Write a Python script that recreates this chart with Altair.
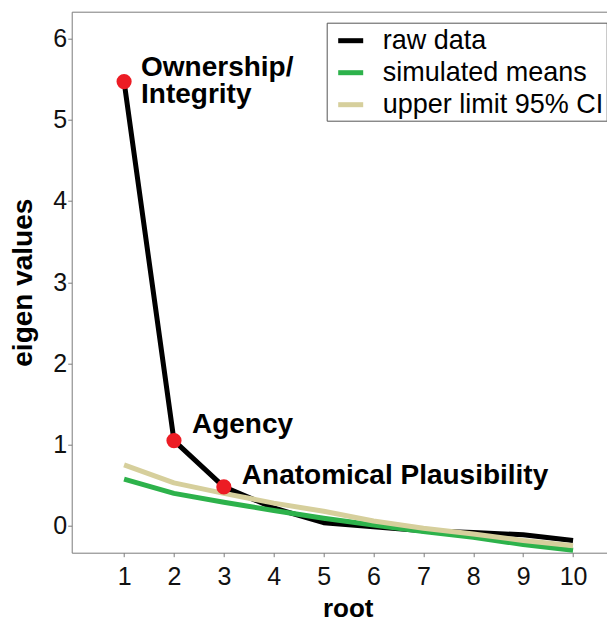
import altair as alt
import pandas as pd

# ---- data ----
roots = [1, 2, 3, 4, 5, 6, 7, 8, 9, 10]
raw_data = [5.47, 1.05, 0.48, 0.22, 0.04, -0.01, -0.06, -0.08, -0.11, -0.18]
simulated_means = [0.575, 0.40, 0.29, 0.19, 0.095, 0.01, -0.07, -0.14, -0.23, -0.30]
upper_ci = [0.75, 0.53, 0.40, 0.28, 0.18, 0.06, -0.03, -0.10, -0.18, -0.245]

series_names = ["raw data", "simulated means", "upper limit 95% CI"]
series_colors = ["#000000", "#2DB24B", "#D6CF9C"]

factor_roots = [1, 2, 3]
factor_labels = ["Ownership/\nIntegrity", "Agency", "Anatomical Plausibility"]

x_ticks = list(range(1, 11))
y_ticks = list(range(0, 7))

FONT = "Liberation Sans"
GRAY = "#7a7a7a"

lines_df = pd.DataFrame({
    "root": roots * 3,
    "value": raw_data + simulated_means + upper_ci,
    "series": [s for s in series_names for _ in roots],
    "order": [i for i in range(3) for _ in roots],
})

points_df = pd.DataFrame({
    "root": factor_roots,
    "value": [raw_data[r - 1] for r in factor_roots],
    "label": factor_labels,
})

x_scale = alt.Scale(domain=[-0.05, 10.68], nice=False, zero=False)
y_scale = alt.Scale(domain=[-0.33, 6.33], nice=False, zero=False)

x_axis = alt.Axis(
    values=x_ticks, format="d", grid=False, tickSize=4, labelPadding=8,
    domainColor=GRAY, tickColor=GRAY, labelColor="#111111",
    labelFont=FONT, labelFontSize=25, labelAngle=0,
    title="root", titleFont=FONT, titleFontSize=26, titleFontWeight="bold",
    titleColor="#000000", titleX=276, titleY=64, titleAlign="center",
    titleBaseline="alphabetic",
)
y_axis = alt.Axis(
    values=y_ticks, format="d", grid=False, tickSize=4, labelPadding=1,
    domainColor=GRAY, tickColor=GRAY, labelColor="#111111",
    labelFont=FONT, labelFontSize=25,
    title="eigen values", titleFont=FONT, titleFontSize=28, titleFontWeight="bold",
    titleColor="#000000", titleAngle=270, titleX=-40, titleY=270.5,
    titleAlign="center", titleBaseline="alphabetic",
)

lines = alt.Chart(lines_df).mark_line(strokeWidth=5, strokeCap="butt", strokeJoin="round").encode(
    x=alt.X("root:Q", scale=x_scale, axis=x_axis),
    y=alt.Y("value:Q", scale=y_scale, axis=y_axis),
    color=alt.Color(
        "series:N",
        scale=alt.Scale(domain=series_names, range=series_colors),
        legend=alt.Legend(
            orient="none", legendX=255, legendY=11, title=None,
            symbolType="stroke", symbolStrokeWidth=5, symbolSize=625,
            labelFont=FONT, labelFontSize=27, labelColor="#000000", labelLimit=400,
            padding=3, rowPadding=4, symbolOffset=6, labelOffset=17,
            strokeColor="#555555", fillColor="#ffffff", cornerRadius=0,
        ),
    ),
    order=alt.Order("order:Q"),
)

top_axis = alt.Axis(orient="top", labels=False, ticks=False, domain=True,
                    domainColor=GRAY, grid=False, title=None)

points = alt.Chart(points_df).mark_circle(size=230, color="#EC1C24", opacity=1).encode(
    x=alt.X("root:Q", scale=x_scale, axis=top_axis),
    y=alt.Y("value:Q", scale=y_scale),
)

def label_layer(idx, dx, dy):
    return alt.Chart(points_df.iloc[[idx]]).mark_text(
        align="left", baseline="alphabetic", dx=dx, dy=dy,
        font=FONT, fontSize=28, fontWeight="bold", color="#000000",
        lineBreak="\n", lineHeight=27,
    ).encode(
        x=alt.X("root:Q", scale=x_scale, axis=None),
        y=alt.Y("value:Q", scale=y_scale),
        text="label:N",
    )

labels = [label_layer(0, 17, -6), label_layer(1, 18, -8), label_layer(2, 18, -3)]

chart = alt.layer(lines, points, *labels).resolve_axis(x="independent").properties(
    width=535.3, height=541,
    autosize=alt.AutoSizeParams(type="none"),
    padding={"left": 63.7, "top": 3.7, "right": 0, "bottom": 70},
    background="#ffffff",
).configure_view(stroke=None)

chart.save("out.html", embed_options={"renderer": "svg", "actions": False})
